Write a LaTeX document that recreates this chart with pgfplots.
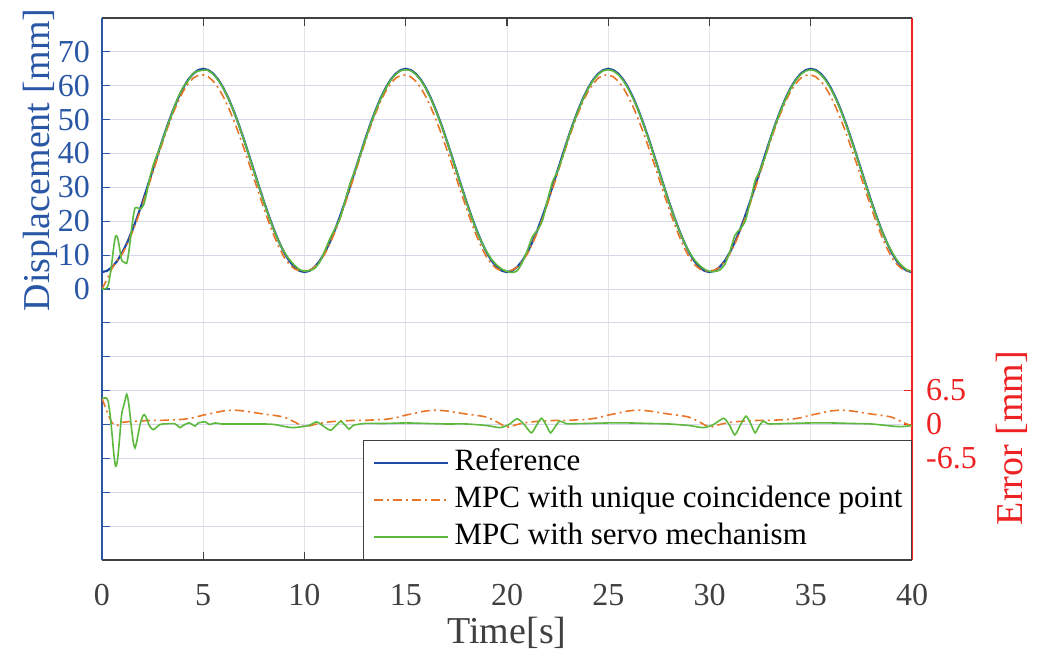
\documentclass[border=0pt]{standalone}
\usepackage{fontspec}
\setmainfont{Liberation Serif}
\usepackage{pgfplots}
\pgfplotsset{compat=1.18}
\definecolor{axblue}{RGB}{42,87,165}
\definecolor{axred}{RGB}{238,34,34}
\definecolor{axgray}{RGB}{64,64,64}
\definecolor{refblue}{RGB}{30,75,165}
\definecolor{mpcorange}{RGB}{232,118,40}
\definecolor{mpcgreen}{RGB}{92,185,62}
\definecolor{gridh}{RGB}{214,214,236}
\definecolor{gridv}{RGB}{228,228,228}
\begin{document}
\begin{tikzpicture}
\pgfplotsset{
  refsty/.style={draw=refblue, line width=2.2pt},
  orsty/.style={draw=mpcorange, line width=1.6pt, dash pattern=on 9pt off 4pt on 2pt off 4pt},
  grsty/.style={draw=mpcgreen, line width=1.6pt},
}
\begin{axis}[
  at={(0pt,0pt)}, anchor=south west,
  width=810pt, height=542pt, scale only axis,
  xmin=0, xmax=40, ymin=-80, ymax=80,
  axis x line*=box, axis y line*=left,
  xtick={0,5,...,40},
  ytick={-70,-60,-50,-40,-30,-20,-10,0,10,20,30,40,50,60,70},
  yticklabels={{},{},{},{},{},{},{},0,10,20,30,40,50,60,70},
  /pgf/number format/assume math mode=true,
  grid=major,
  major x grid style={draw=gridv, line width=1pt},
  major y grid style={draw=gridh, line width=1pt},
  tick align=inside, major tick length=8pt,
  x axis line style={draw=axgray, line width=1.3pt},
  y axis line style={draw=axblue, line width=1.3pt},
  xtick style={draw=axgray, line width=1.2pt},
  ytick style={draw=axblue, line width=1.2pt},
  xticklabel style={font=\fontsize{32}{32}\selectfont, text=axgray, inner sep=0pt, yshift=-24pt},
  yticklabel style={font=\fontsize{32}{32}\selectfont, text=axblue, inner sep=0pt, xshift=-12pt},
  xlabel={Time[s]},
  xlabel style={at={(axis description cs:0.5,-0.135)}, anchor=center, font=\fontsize{38}{38}\selectfont, text=axgray},
  ylabel={Displacement [mm]},
  ylabel style={at={(axis description cs:-0.0765,0.738)}, anchor=center, font=\fontsize{38}{38}\selectfont, text=axblue},
]
% Reference
\addplot[refsty] coordinates {
(0,5.00) (0.25,5.37) (0.5,6.47) (0.75,8.27) (1,10.73) (1.25,13.79) (1.5,17.37) (1.75,21.38) (2,25.73) (2.25,30.31)
(2.5,35.00) (2.75,39.69) (3,44.27) (3.25,48.62) (3.5,52.63) (3.75,56.21) (4,59.27) (4.25,61.73) (4.5,63.53) (4.75,64.63)
(5,65.00) (5.25,64.63) (5.5,63.53) (5.75,61.73) (6,59.27) (6.25,56.21) (6.5,52.63) (6.75,48.62) (7,44.27) (7.25,39.69)
(7.5,35.00) (7.75,30.31) (8,25.73) (8.25,21.38) (8.5,17.37) (8.75,13.79) (9,10.73) (9.25,8.27) (9.5,6.47) (9.75,5.37)
(10,5.00) (10.25,5.37) (10.5,6.47) (10.75,8.27) (11,10.73) (11.25,13.79) (11.5,17.37) (11.75,21.38) (12,25.73) (12.25,30.31)
(12.5,35.00) (12.75,39.69) (13,44.27) (13.25,48.62) (13.5,52.63) (13.75,56.21) (14,59.27) (14.25,61.73) (14.5,63.53) (14.75,64.63)
(15,65.00) (15.25,64.63) (15.5,63.53) (15.75,61.73) (16,59.27) (16.25,56.21) (16.5,52.63) (16.75,48.62) (17,44.27) (17.25,39.69)
(17.5,35.00) (17.75,30.31) (18,25.73) (18.25,21.38) (18.5,17.37) (18.75,13.79) (19,10.73) (19.25,8.27) (19.5,6.47) (19.75,5.37)
(20,5.00) (20.25,5.37) (20.5,6.47) (20.75,8.27) (21,10.73) (21.25,13.79) (21.5,17.37) (21.75,21.38) (22,25.73) (22.25,30.31)
(22.5,35.00) (22.75,39.69) (23,44.27) (23.25,48.62) (23.5,52.63) (23.75,56.21) (24,59.27) (24.25,61.73) (24.5,63.53) (24.75,64.63)
(25,65.00) (25.25,64.63) (25.5,63.53) (25.75,61.73) (26,59.27) (26.25,56.21) (26.5,52.63) (26.75,48.62) (27,44.27) (27.25,39.69)
(27.5,35.00) (27.75,30.31) (28,25.73) (28.25,21.38) (28.5,17.37) (28.75,13.79) (29,10.73) (29.25,8.27) (29.5,6.47) (29.75,5.37)
(30,5.00) (30.25,5.37) (30.5,6.47) (30.75,8.27) (31,10.73) (31.25,13.79) (31.5,17.37) (31.75,21.38) (32,25.73) (32.25,30.31)
(32.5,35.00) (32.75,39.69) (33,44.27) (33.25,48.62) (33.5,52.63) (33.75,56.21) (34,59.27) (34.25,61.73) (34.5,63.53) (34.75,64.63)
(35,65.00) (35.25,64.63) (35.5,63.53) (35.75,61.73) (36,59.27) (36.25,56.21) (36.5,52.63) (36.75,48.62) (37,44.27) (37.25,39.69)
(37.5,35.00) (37.75,30.31) (38,25.73) (38.25,21.38) (38.5,17.37) (38.75,13.79) (39,10.73) (39.25,8.27) (39.5,6.47) (39.75,5.37)
(40,5.00)
};
% MPC with unique coincidence point
\addplot[orsty] coordinates {
(0,0.00) (0.25,2.87) (0.5,6.17) (0.75,8.47) (1,10.33) (1.25,13.29) (1.5,16.77) (1.75,20.73) (2,25.03) (2.25,29.56)
(2.5,34.20) (2.75,38.89) (3,43.47) (3.25,47.77) (3.5,51.73) (3.75,55.26) (4,58.27) (4.25,60.58) (4.5,62.23) (4.75,63.08)
(5,63.20) (5.25,62.63) (5.5,61.33) (5.75,59.33) (6,56.67) (6.25,53.51) (6.5,49.88) (6.75,45.92) (7,41.67) (7.25,37.24)
(7.5,32.70) (7.75,28.16) (8,23.73) (8.25,19.48) (8.5,15.62) (8.75,12.19) (9,9.33) (9.25,7.27) (9.5,5.97) (9.75,5.37)
(10,5.40) (10.25,5.57) (10.5,6.47) (10.75,8.07) (11,10.33) (11.25,13.29) (11.5,16.77) (11.75,20.73) (12,25.03) (12.25,29.56)
(12.5,34.20) (12.75,38.89) (13,43.47) (13.25,47.77) (13.5,51.73) (13.75,55.26) (14,58.27) (14.25,60.58) (14.5,62.23) (14.75,63.08)
(15,63.20) (15.25,62.63) (15.5,61.33) (15.75,59.33) (16,56.67) (16.25,53.51) (16.5,49.88) (16.75,45.92) (17,41.67) (17.25,37.24)
(17.5,32.70) (17.75,28.16) (18,23.73) (18.25,19.48) (18.5,15.62) (18.75,12.19) (19,9.33) (19.25,7.27) (19.5,5.97) (19.75,5.37)
(20,5.40) (20.25,5.57) (20.5,6.47) (20.75,8.07) (21,10.33) (21.25,13.29) (21.5,16.77) (21.75,20.73) (22,25.03) (22.25,29.56)
(22.5,34.20) (22.75,38.89) (23,43.47) (23.25,47.77) (23.5,51.73) (23.75,55.26) (24,58.27) (24.25,60.58) (24.5,62.23) (24.75,63.08)
(25,63.20) (25.25,62.63) (25.5,61.33) (25.75,59.33) (26,56.67) (26.25,53.51) (26.5,49.88) (26.75,45.92) (27,41.67) (27.25,37.24)
(27.5,32.70) (27.75,28.16) (28,23.73) (28.25,19.48) (28.5,15.62) (28.75,12.19) (29,9.33) (29.25,7.27) (29.5,5.97) (29.75,5.37)
(30,5.40) (30.25,5.57) (30.5,6.47) (30.75,8.07) (31,10.33) (31.25,13.29) (31.5,16.77) (31.75,20.73) (32,25.03) (32.25,29.56)
(32.5,34.20) (32.75,38.89) (33,43.47) (33.25,47.77) (33.5,51.73) (33.75,55.26) (34,58.27) (34.25,60.58) (34.5,62.23) (34.75,63.08)
(35,63.20) (35.25,62.63) (35.5,61.33) (35.75,59.33) (36,56.67) (36.25,53.51) (36.5,49.88) (36.75,45.92) (37,41.67) (37.25,37.24)
(37.5,32.70) (37.75,28.16) (38,23.73) (38.25,19.48) (38.5,15.62) (38.75,12.19) (39,9.33) (39.25,7.27) (39.5,5.97) (39.75,5.37)
(40,5.40)
};
% MPC with servo mechanism
\addplot[grsty, smooth, tension=0.4] coordinates {
(0,0.00) (0.2,0.14) (0.3,1.03) (0.4,4.04) (0.5,8.47) (0.58,12.47) (0.67,15.62) (0.76,15.36) (0.85,12.68) (0.97,8.50)
(1.1,7.90) (1.22,7.60) (1.32,10.75) (1.45,17.11) (1.55,21.64) (1.63,23.90) (1.72,24.08) (1.88,23.61) (2.0,24.23) (2.09,25.46)
(2.2,28.18) (2.35,32.48) (2.53,36.57) (2.7,39.26) (2.86,41.73) (3,44.17)
(3.25,48.52) (3.5,52.48) (3.75,56.51) (4,59.47) (4.25,61.43) (4.5,63.63) (4.75,64.33)
(5,64.60) (5.25,64.53) (5.5,63.33) (5.75,61.53) (6,59.17) (6.25,56.11) (6.5,52.53) (6.75,48.52) (7,44.17) (7.25,39.59)
(7.5,34.90) (7.75,30.21) (8,25.63) (8.25,21.28) (8.5,17.27) (8.75,13.79) (9,10.93) (9.25,8.77) (9.5,7.07) (9.75,5.77)
(10,5.30) (10.25,5.47) (10.5,6.07) (10.75,7.97) (11,11.23) (11.25,14.79) (11.5,17.77) (11.75,20.78) (12,25.83) (12.25,31.21)
(12.5,35.10) (12.75,39.59) (13,44.07) (13.25,48.42) (13.5,52.43) (13.75,56.01) (14,59.07) (14.25,61.53) (14.5,63.33) (14.75,64.43)
(15,64.70) (15.25,64.43) (15.5,63.33) (15.75,61.53) (16,59.07) (16.25,56.01) (16.5,52.48) (16.75,48.47) (17,44.17) (17.25,39.59)
(17.5,34.90) (17.75,30.21) (18,25.63) (18.25,21.28) (18.5,17.27) (18.75,13.79) (19,10.93) (19.25,8.67) (19.5,7.07) (19.75,5.87)
(20,5.20) (20.25,4.87) (20.5,5.37) (20.75,7.77) (21,11.33) (21.25,15.39) (21.5,17.37) (21.75,20.18) (22,26.23) (22.25,31.71)
(22.5,34.80) (22.75,39.19) (23,44.14) (23.25,48.42) (23.5,52.43) (23.75,56.01) (24,59.07) (24.25,61.53) (24.5,63.33) (24.75,64.43)
(25,64.70) (25.25,64.33) (25.5,63.23) (25.75,61.43) (26,58.97) (26.25,55.96) (26.5,52.43) (26.75,48.42) (27,44.07) (27.25,39.54)
(27.5,34.85) (27.75,30.21) (28,25.63) (28.25,21.28) (28.5,17.32) (28.75,13.79) (29,10.93) (29.25,8.67) (29.5,7.02) (29.75,5.87)
(30,5.20) (30.25,5.17) (30.5,5.57) (30.75,7.17) (31,10.93) (31.25,15.79) (31.5,17.67) (31.75,19.78) (32,25.43) (32.25,31.91)
(32.5,35.10) (32.75,39.09) (33,44.17) (33.25,48.42) (33.5,52.43) (33.75,56.01) (34,59.07) (34.25,61.53) (34.5,63.28) (34.75,64.33)
(35,64.70) (35.25,64.33) (35.5,63.23) (35.75,61.43) (36,58.97) (36.25,55.96) (36.5,52.43) (36.75,48.42) (37,44.07) (37.25,39.54)
(37.5,34.85) (37.75,30.21) (38,25.63) (38.25,21.28) (38.5,17.32) (38.75,13.84) (39,11.03) (39.25,8.62) (39.5,6.87) (39.75,5.67)
(40,5.20)
};
\end{axis}
\begin{axis}[
  at={(0pt,0pt)}, anchor=south west,
  width=810pt, height=542pt, scale only axis,
  xmin=0, xmax=40, ymin=-26, ymax=78,
  axis x line=none, axis y line*=right,
  ytick={-6.5,0,6.5}, yticklabels={-6.5,0,6.5},
  tick align=inside, major tick length=8pt,
  y axis line style={draw=axred, line width=1.3pt},
  ytick style={draw=axred, line width=1.2pt},
  yticklabel style={font=\fontsize{32}{32}\selectfont, text=axred, inner sep=0pt, xshift=14pt},
  ylabel={Error [mm]},
  ylabel style={at={(axis description cs:1.1235,0.225)}, anchor=center, font=\fontsize{38}{38}\selectfont, text=axred},
  legend cell align=left,
  legend image code/.code={\draw[#1] (0pt,0pt) -- (74pt,0pt);},
  legend style={at={(1,0)}, anchor=south east, draw=axgray, line width=1.2pt, fill=white,
    font=\fontsize{31}{31}\selectfont, inner xsep=9pt, inner ysep=7pt, row sep=6pt, column sep=6pt,
    nodes={inner sep=0pt, text height=23pt, text depth=8pt}},
]
\addlegendimage{refsty}
\addlegendentry{Reference}
\addlegendimage{orsty}
\addlegendentry{MPC with unique coincidence point}
\addlegendimage{grsty}
\addlegendentry{MPC with servo mechanism}
% Error: unique coincidence point
\addplot[orsty, smooth, tension=0.4, forget plot] coordinates {
(0,5.0) (0.25,2.5) (0.5,0.3) (0.75,-0.2) (1,0.4) (1.5,0.6) (2,0.7) (2.5,0.8) (3,0.8) (3.5,0.9)
(4,1.0) (4.5,1.3) (5,1.8) (5.5,2.2) (6,2.6) (6.5,2.75) (7,2.6) (7.5,2.3) (8,2.0) (8.5,1.75) (9,1.4) (9.5,0.5)
(10,-0.4) (10.5,0.0) (11,0.4) (11.5,0.6) (12,0.7) (12.5,0.8) (13,0.8) (13.5,0.9)
(14,1.0) (14.5,1.3) (15,1.8) (15.5,2.2) (16,2.6) (16.5,2.75) (17,2.6) (17.5,2.3) (18,2.0) (18.5,1.75) (19,1.4) (19.5,0.5)
(20,-0.5) (20.5,0.0) (21,0.4) (21.5,0.6) (22,0.7) (22.5,0.8) (23,0.8) (23.5,0.9)
(24,1.0) (24.5,1.3) (25,1.8) (25.5,2.2) (26,2.6) (26.5,2.75) (27,2.6) (27.5,2.3) (28,2.0) (28.5,1.75) (29,1.4) (29.5,0.5)
(30,-0.5) (30.5,0.0) (31,0.4) (31.5,0.6) (32,0.7) (32.5,0.8) (33,0.8) (33.5,0.9)
(34,1.0) (34.5,1.3) (35,1.8) (35.5,2.2) (36,2.6) (36.5,2.75) (37,2.6) (37.5,2.3) (38,2.0) (38.5,1.75) (39,1.4) (39.5,0.5)
(40,-0.3)
};
% Error: servo mechanism
\addplot[grsty, smooth, tension=0.4, forget plot] coordinates {
(0,5.0) (0.2,5.1) (0.3,4.5) (0.4,1.9) (0.5,-2.0) (0.58,-5.5) (0.67,-8.0) (0.76,-7.0) (0.85,-3.5) (0.97,1.9)
(1.1,4.0) (1.22,5.8) (1.32,4.0) (1.45,-0.5) (1.55,-3.5) (1.63,-4.5) (1.72,-3.2) (1.88,0.0) (2.0,1.5) (2.09,1.9)
(2.2,1.2) (2.35,-0.3) (2.53,-1.0) (2.7,-0.5) (2.86,0.0) (3.0,0.1) (3.6,0.15) (3.85,-0.6) (4.0,-0.2) (4.3,0.3)
(4.6,-0.3) (4.75,0.3) (5.1,0.5) (5.3,0.0) (5.6,0.3) (5.9,0.1) (6.5,0.1) (7.5,0.1) (8.0,0.1) (8.5,0.0)
(9.4,-0.6) (10.2,-0.2) (10.6,0.5) (11.0,-0.5) (11.3,-1.1) (11.6,0.0) (11.8,0.6) (12.05,-0.3) (12.2,-0.9) (12.4,-0.2)
(12.6,0.0) (13,0.2) (14,0.2) (15,0.3) (16,0.2) (17,0.1) (18,0.1) (19,-0.2) (19.65,-0.6) (20.1,0.0)
(20.5,1.1) (20.85,0.0) (21.2,-1.6) (21.45,-0.2) (21.7,1.2) (21.95,-0.2) (22.15,-1.6) (22.4,-0.3) (22.6,0.65) (22.85,0.3)
(23.0,0.13) (24,0.2) (25,0.3) (26,0.3) (27,0.2) (28,0.1) (29,-0.2) (29.7,-0.6) (30.2,0.0) (30.7,1.2)
(31.0,-0.2) (31.25,-2.0) (31.5,-0.3) (31.8,1.6) (32.05,0.0) (32.25,-1.6) (32.45,-0.3) (32.65,0.65) (32.85,0.2) (33,0.1)
(34,0.2) (35,0.3) (36,0.3) (37,0.2) (38,0.1) (39,-0.3) (39.5,-0.4) (40,-0.2)
};
\end{axis}
\pgfresetboundingbox
\useasboundingbox (-102pt,-102pt) rectangle (935pt,560pt);
\end{tikzpicture}
\end{document}
